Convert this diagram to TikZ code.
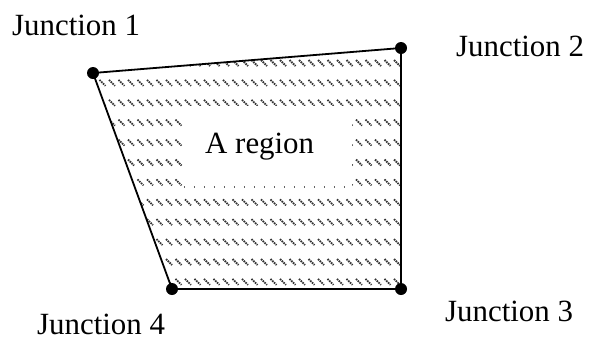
\documentclass[tikz,border=0pt]{standalone}
\usepackage{fontspec}
\setmainfont{Liberation Serif}
\begin{document}
\begin{tikzpicture}[x=1bp,y=-1bp,
  lbl/.style={anchor=base west, inner sep=0pt, font=\fontsize{31}{36}\selectfont},
  junc/.style={circle, fill=black, inner sep=0pt, minimum size=12bp},
  hatch/.style={black!80, line width=1.8bp, dash pattern=on 1.6bp off 0.9bp},
  edge/.style={line width=1.8bp, line join=round}]
\useasboundingbox (0,0) rectangle (589,341);
\coordinate (p1) at (93,73);
\coordinate (p2) at (401,48);
\coordinate (p3) at (401,289);
\coordinate (p4) at (172,289);
% hatching
\begin{scope}
  \clip (p1) -- (p2) -- (p3) -- (p4) -- cycle;
  \foreach \k in {0,...,11}{
    \pgfmathsetmacro\yy{63+19.9*\k}
    \foreach \xx in {90,99.5,...,405}{
      \draw[hatch] (\xx,\yy-3) -- ++(6,6);
    }
  }
\end{scope}
% white text area
\node[fill=white, inner sep=0pt, minimum width=168bp, minimum height=81bp] (box) at (268,146.5) {};
\draw[black!60, line width=1.5bp, dash pattern=on 1.6bp off 8.4bp] (box.south west) -- (box.south east);
\node[lbl] (reg) at (205,153) {A region};
% outline
\draw[edge] (p1) -- (p2) -- (p3) -- (p4) -- cycle;
\node[junc] (j1) at (p1) {};
\node[junc] (j2) at (p2) {};
\node[junc] (j3) at (p3) {};
\node[junc] (j4) at (p4) {};
% labels
\node[lbl] (l1) at (12,35) {Junction 1};
\node[lbl] (l2) at (456,56) {Junction 2};
\node[lbl] (l3) at (445,321) {Junction 3};
\node[lbl] (l4) at (37,334) {Junction 4};
\end{tikzpicture}
\end{document}
